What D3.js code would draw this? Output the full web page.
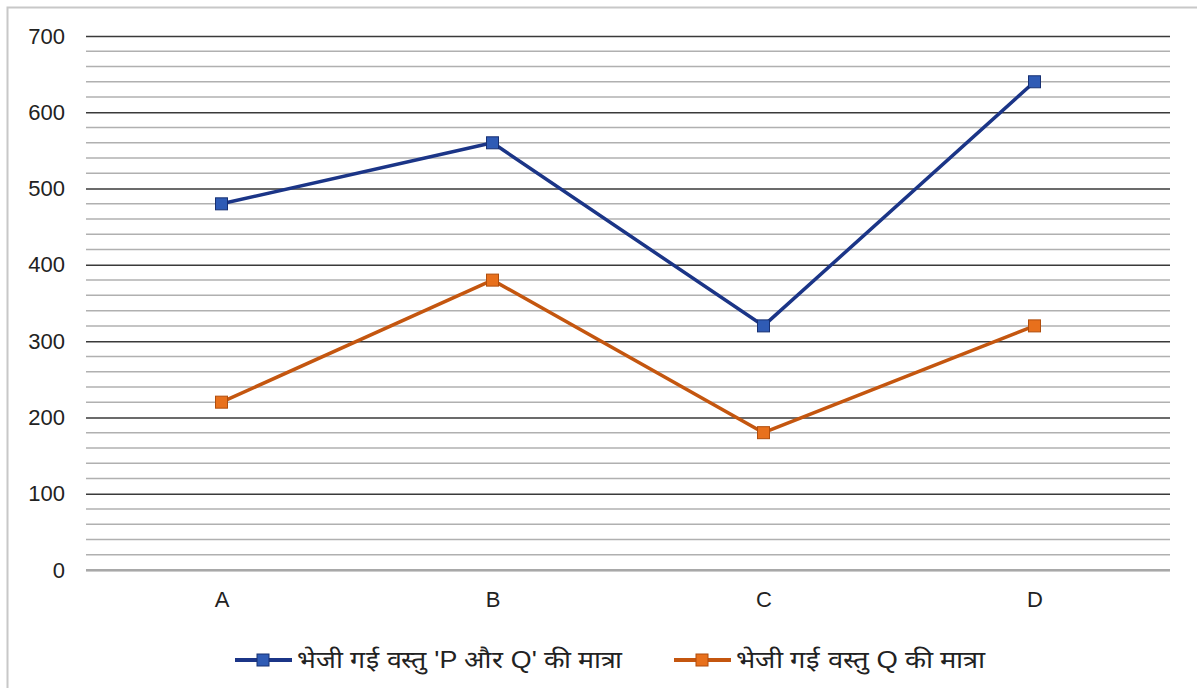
<!DOCTYPE html>
<html>
<head>
<meta charset="utf-8">
<script src="https://cdn.jsdelivr.net/npm/d3@7"></script>
<style>
  body { margin: 0; background: #fff; }
  text { font-family: "Liberation Sans", Arial, sans-serif; fill: #222; }
</style>
</head>
<body>
<svg width="1197" height="688"></svg>
<script>
const categories = ["A", "B", "C", "D"];
const totalPQ = [480, 560, 320, 640];
const onlyQ = [220, 380, 180, 320];
const seriesNames = ["भेजी गई वस्तु 'P और Q' की मात्रा", "भेजी गई वस्तु Q की मात्रा"];
const yTicks = [0, 100, 200, 300, 400, 500, 600, 700];

const width = 1197;
const height = 688;
const plotLeft = 86, plotRight = 1170, plotTop = 36, plotBottom = 570;

const svg = d3.select("svg");

// outer frame
svg.append("rect")
    .attr("x", 7.5).attr("y", 7.5)
    .attr("width", width + 10).attr("height", height + 10)
    .attr("fill", "none")
    .attr("stroke", "#c8c8c8")
    .attr("stroke-width", 2);

const xScale = d3.scalePoint()
  .domain(categories)
  .range([plotLeft, plotRight])
  .padding(0.5);

const yScale = d3.scaleLinear()
  .domain([0, 700])
  .range([plotBottom, plotTop]);

// minor grid
svg.append("g")
  .selectAll("line")
  .data(d3.range(0, 701, 20).filter(v => v % 100 !== 0))
  .enter()
  .append("line")
    .attr("x1", plotLeft).attr("x2", plotRight)
    .attr("y1", d => yScale(d)).attr("y2", d => yScale(d))
    .attr("stroke", "#b0b0b0")
    .attr("stroke-width", 1.5);

// major grid + labels
const yAxis = d3.axisLeft(yScale)
  .tickValues(yTicks)
  .tickSize(-(plotRight - plotLeft))
  .tickPadding(21)
  .tickFormat(d3.format("d"));

svg.append("g")
    .attr("transform", `translate(${plotLeft}, 0)`)
    .call(yAxis)
    .call(g => g.select(".domain").remove())
    .call(g => g.selectAll(".tick line").attr("stroke", "#3a3a3a").attr("stroke-width", 1.5))
    .call(g => g.selectAll(".tick text").style("font-size", "22px").attr("fill", "#222"));

// zero line is gray
svg.append("line")
    .attr("x1", plotLeft).attr("x2", plotRight)
    .attr("y1", yScale(0)).attr("y2", yScale(0))
    .attr("stroke", "#a8a8a8").attr("stroke-width", 2);

const xAxis = d3.axisBottom(xScale).tickSize(0).tickPadding(21);
svg.append("g")
    .attr("transform", `translate(0, ${plotBottom})`)
    .call(xAxis)
    .call(g => g.select(".domain").remove())
    .call(g => g.selectAll(".tick text").style("font-size", "22px").attr("fill", "#222"));

const series = [
  { name: seriesNames[0], values: totalPQ, line: "#1b3587", fill: "#2f5bb5", edge: "#173072" },
  { name: seriesNames[1], values: onlyQ, line: "#c4560f", fill: "#e8701c", edge: "#b04d0c" }
];

const line = d3.line()
  .x((d, i) => xScale(categories[i]))
  .y(d => yScale(d));

series.forEach(s => {
  svg.append("path")
      .datum(s.values)
      .attr("d", line)
      .attr("fill", "none")
      .attr("stroke", s.line)
      .attr("stroke-width", 3.5)
      .attr("stroke-linejoin", "round");

  svg.append("g")
    .selectAll("rect")
    .data(s.values)
    .enter()
    .append("rect")
      .attr("x", (d, i) => xScale(categories[i]) - 6)
      .attr("y", d => yScale(d) - 6)
      .attr("width", 12).attr("height", 12)
      .attr("fill", s.fill)
      .attr("stroke", s.edge)
      .attr("stroke-width", 1);
});

// legend
const legendX = [235, 674];
const legendW = [325, 249];
const legend = svg.append("g")
  .selectAll("g")
  .data(series)
  .enter()
  .append("g")
    .attr("transform", (d, i) => `translate(${legendX[i]}, 660)`);

legend.append("line")
    .attr("x1", 0).attr("x2", 57)
    .attr("y1", 0).attr("y2", 0)
    .attr("stroke", d => d.line)
    .attr("stroke-width", 4);

legend.append("rect")
    .attr("x", 22).attr("y", -6)
    .attr("width", 12).attr("height", 12)
    .attr("fill", d => d.fill)
    .attr("stroke", d => d.edge);

legend.append("text")
    .attr("x", 62)
    .attr("y", 0)
    .attr("dy", "0.35em")
    .style("font-size", "24px")
    .attr("textLength", (d, i) => legendW[i])
    .attr("lengthAdjust", "spacingAndGlyphs")
    .text(d => d.name);
</script>
</body>
</html>
